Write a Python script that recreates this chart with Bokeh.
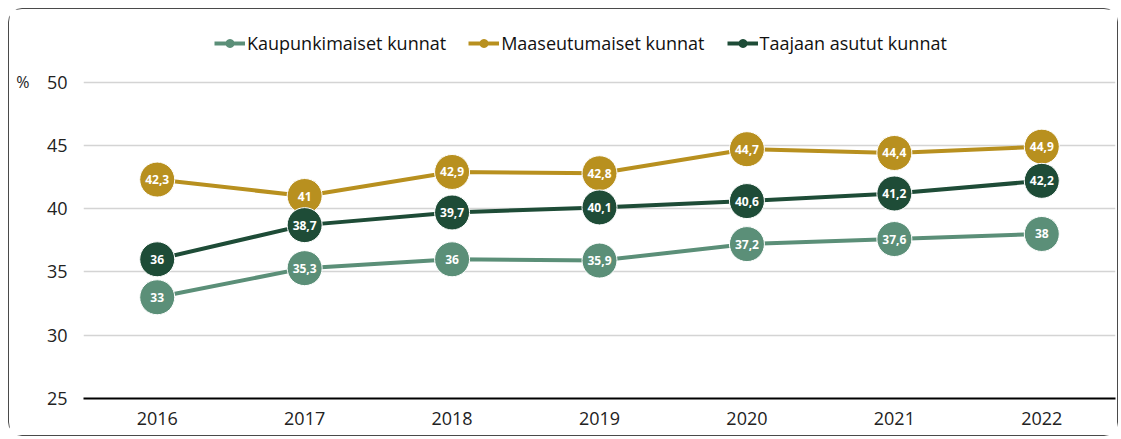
from bokeh.plotting import figure
from bokeh.models import (ColumnDataSource, Legend, LegendItem, FixedTicker, Range1d,
                          LinearAxis)
from bokeh.core.properties import value
from bokeh.embed import file_html
from bokeh.resources import INLINE

years = ["2016", "2017", "2018", "2019", "2020", "2021", "2022"]
kaupunki = [33, 35.3, 36, 35.9, 37.2, 37.6, 38]
maaseutu = [42.3, 41, 42.9, 42.8, 44.7, 44.4, 44.9]
taajaan = [36, 38.7, 39.7, 40.1, 40.6, 41.2, 42.2]
names = ["Kaupunkimaiset kunnat", "Maaseutumaiset kunnat", "Taajaan asutut kunnat"]
colors = ["#5b8f78", "#b8901f", "#1e4c37"]
y_ticks = [25, 30, 35, 40, 45, 50]
unit_label = "%"

FONT = "Open Sans"

p = figure(width=1110, height=428, x_range=years, y_range=Range1d(25, 54),
           output_backend="svg", toolbar_location=None,
           min_border_left=74, min_border_right=4, min_border_top=22, min_border_bottom=39)
p.margin = (8, 0, 0, 8)
p.styles = {"border": "1.5px solid #4a4a4a", "border-radius": "14px"}
p.outline_line_color = None
p.background_fill_color = "white"
p.border_fill_color = "white"

p.yaxis.ticker = FixedTicker(ticks=y_ticks)
p.yaxis.axis_line_color = None
p.yaxis.major_tick_line_color = None
p.yaxis.minor_tick_line_color = None
p.yaxis.major_label_text_font = FONT
p.yaxis.major_label_text_font_size = "18px"
p.yaxis.major_label_text_color = "#222222"
p.yaxis.major_label_standoff = 10

unit_axis = LinearAxis(ticker=FixedTicker(ticks=[y_ticks[-1]]),
                       major_label_overrides={y_ticks[-1]: unit_label},
                       axis_line_color=None, major_tick_line_color=None,
                       minor_tick_line_color=None, major_label_text_font=FONT,
                       major_label_text_font_size="16px", major_label_text_color="#222222",
                       major_label_standoff=8)
p.add_layout(unit_axis, "left")

p.xaxis.axis_line_color = "black"
p.xaxis.axis_line_width = 1.8
p.xaxis.major_tick_line_color = None
p.xaxis.minor_tick_line_color = None
p.xaxis.major_label_text_font = FONT
p.xaxis.major_label_text_font_size = "18px"
p.xaxis.major_label_text_color = "#222222"
p.xaxis.major_label_standoff = 7

p.xgrid.grid_line_color = None
p.ygrid.ticker = FixedTicker(ticks=y_ticks)
p.ygrid.grid_line_color = "#d4d4d4"
p.ygrid.grid_line_width = 1.5

items = []
for name, vals, col in zip(names, [kaupunki, maaseutu, taajaan], colors):
    src = ColumnDataSource(dict(x=years, y=vals,
                                lab=[f"{v:g}".replace(".", ",") for v in vals]))
    p.line("x", "y", source=src, line_color=col, line_width=4)
    p.scatter("x", "y", source=src, size=35, fill_color=col, line_color="white",
              line_width=1)
    p.text("x", "y", text="lab", source=src, text_color="white",
           text_font=value(FONT), text_font_style="bold", text_font_size="12px",
           text_align="center", text_baseline="middle")
    lg = p.line([years[0]], [vals[0]], line_color=col, line_width=4, visible=False)
    lg2 = p.scatter([years[0]], [vals[0]], size=10, fill_color=col, line_color=col, visible=False)
    items.append(LegendItem(label=name, renderers=[lg, lg2]))

legend = Legend(items=items, orientation="horizontal", location=(131, 343),
                label_text_font=FONT, label_text_font_size="18px",
                label_text_color="#111111", glyph_width=31, glyph_height=20,
                label_standoff=2, spacing=22, padding=0, margin=0,
                border_line_color=None, background_fill_alpha=0)
p.add_layout(legend, "center")

open("out.html", "w").write(file_html(p, INLINE))
